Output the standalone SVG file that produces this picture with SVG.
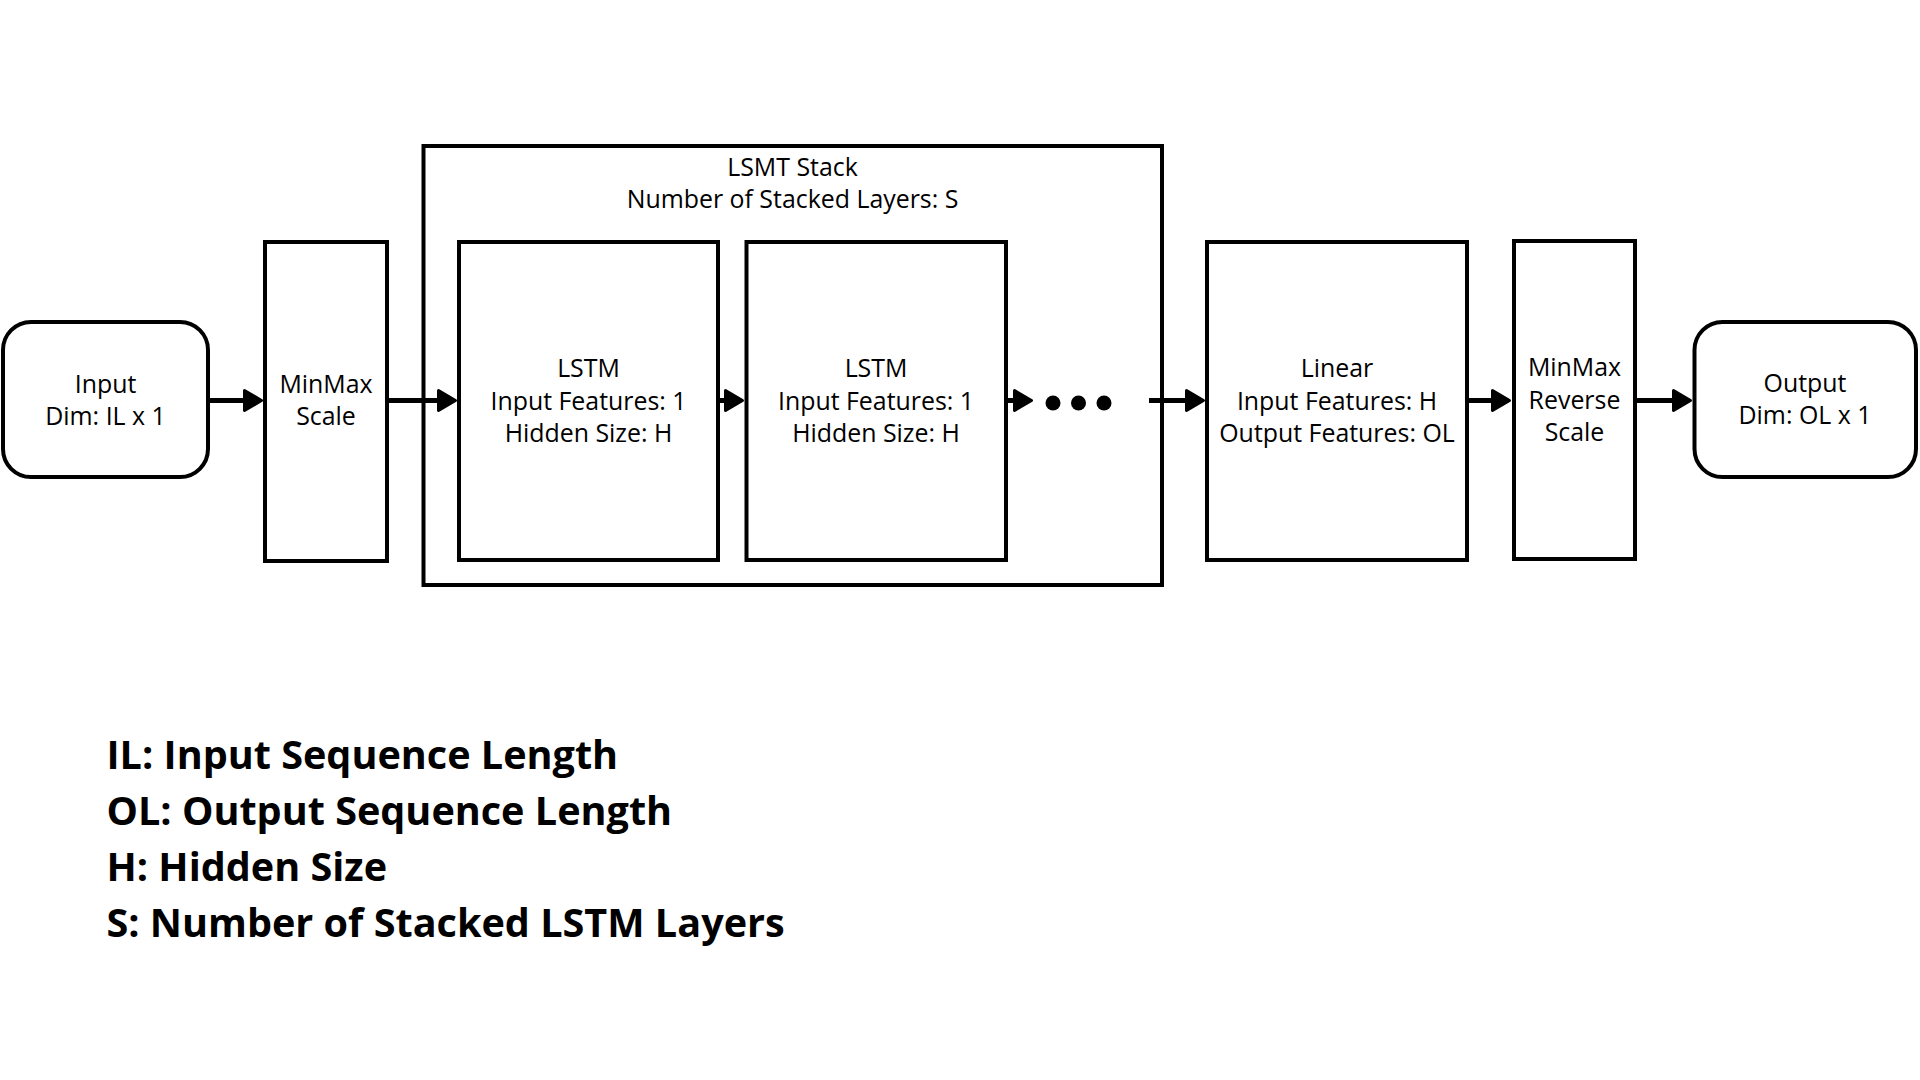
<svg xmlns="http://www.w3.org/2000/svg" width="1920" height="1080" viewBox="0 0 1920 1080">
  <style>
    .box { fill: #ffffff; stroke: #000000; stroke-width: 4; }
    .lbl { font-family: "Open Sans", "Liberation Sans", sans-serif; font-size: 24.9px; fill: #000000; text-anchor: middle; }
    .legend { font-family: "Open Sans", "Liberation Sans", sans-serif; font-size: 39.6px; font-weight: 700; fill: #000000; }
    .conn { stroke: #000000; stroke-width: 5; fill: none; marker-end: url(#arrow); }
    .dot { fill: #000000; }
  </style>
  <defs>
    <marker id="arrow" markerUnits="userSpaceOnUse" viewBox="0 0 22 26" refX="8" refY="13" markerWidth="22" markerHeight="26" orient="auto" overflow="visible">
      <path d="M2,3 L19,13 L2,23 Z" fill="#000000" stroke="#000000" stroke-width="3" stroke-linejoin="round"/>
    </marker>
  </defs>
  <rect width="1920" height="1080" fill="#ffffff"/>

  <g id="stack">
    <rect class="box" x="423.5" y="146" width="738.5" height="439"/>
    <text class="lbl" x="792.5" y="176">LSMT Stack</text>
    <text class="lbl" x="792.5" y="208">Number of Stacked Layers: S</text>
  </g>

  <g id="input">
    <rect class="box" x="3" y="322" width="205" height="155" rx="28"/>
    <text class="lbl" x="105.5" y="393">Input</text>
    <text class="lbl" x="105.5" y="425">Dim: IL x 1</text>
  </g>

  <g id="minmax">
    <rect class="box" x="265" y="242" width="122" height="319"/>
    <text class="lbl" x="326" y="393">MinMax</text>
    <text class="lbl" x="326" y="425">Scale</text>
  </g>

  <g id="lstm1">
    <rect class="box" x="459" y="242" width="259" height="318"/>
    <text class="lbl" x="588.5" y="377">LSTM</text>
    <text class="lbl" x="588.5" y="410">Input Features: 1</text>
    <text class="lbl" x="588.5" y="442">Hidden Size: H</text>
  </g>

  <g id="lstm2">
    <rect class="box" x="746.5" y="242" width="259.5" height="318"/>
    <text class="lbl" x="876" y="377">LSTM</text>
    <text class="lbl" x="876" y="410">Input Features: 1</text>
    <text class="lbl" x="876" y="442">Hidden Size: H</text>
  </g>

  <g id="ellipsis">
    <circle class="dot" cx="1053" cy="403" r="7.5"/>
    <circle class="dot" cx="1078.5" cy="403" r="7.5"/>
    <circle class="dot" cx="1104" cy="403" r="7.5"/>
  </g>

  <g id="linear">
    <rect class="box" x="1207" y="242" width="260" height="318"/>
    <text class="lbl" x="1337" y="377">Linear</text>
    <text class="lbl" x="1337" y="410">Input Features: H</text>
    <text class="lbl" x="1337" y="442">Output Features: OL</text>
  </g>

  <g id="minmax-reverse">
    <rect class="box" x="1514" y="241" width="121" height="318"/>
    <text class="lbl" x="1574.5" y="376">MinMax</text>
    <text class="lbl" x="1574.5" y="409">Reverse</text>
    <text class="lbl" x="1574.5" y="441">Scale</text>
  </g>

  <g id="output">
    <rect class="box" x="1694.5" y="322" width="221.5" height="155" rx="28"/>
    <text class="lbl" x="1805" y="392">Output</text>
    <text class="lbl" x="1805" y="424">Dim: OL x 1</text>
  </g>

  <g id="connectors">
    <line class="conn" x1="210" y1="400.5" x2="250.5" y2="400.5"/>
    <line class="conn" x1="389" y1="400.5" x2="444.5" y2="400.5"/>
    <line class="conn" x1="720" y1="400.5" x2="731.5" y2="400.5"/>
    <line class="conn" x1="1007" y1="400.5" x2="1020.5" y2="400.5"/>
    <line class="conn" x1="1149" y1="400.5" x2="1192.5" y2="400.5"/>
    <line class="conn" x1="1469" y1="400.5" x2="1498.5" y2="400.5"/>
    <line class="conn" x1="1637" y1="400.5" x2="1679.5" y2="400.5"/>
  </g>

  <g id="legend">
    <text class="legend" x="106.5" y="769">IL: Input Sequence Length</text>
    <text class="legend" x="106.5" y="825">OL: Output Sequence Length</text>
    <text class="legend" x="106.5" y="881">H: Hidden Size</text>
    <text class="legend" x="106.5" y="937">S: Number of Stacked LSTM Layers</text>
  </g>
</svg>
